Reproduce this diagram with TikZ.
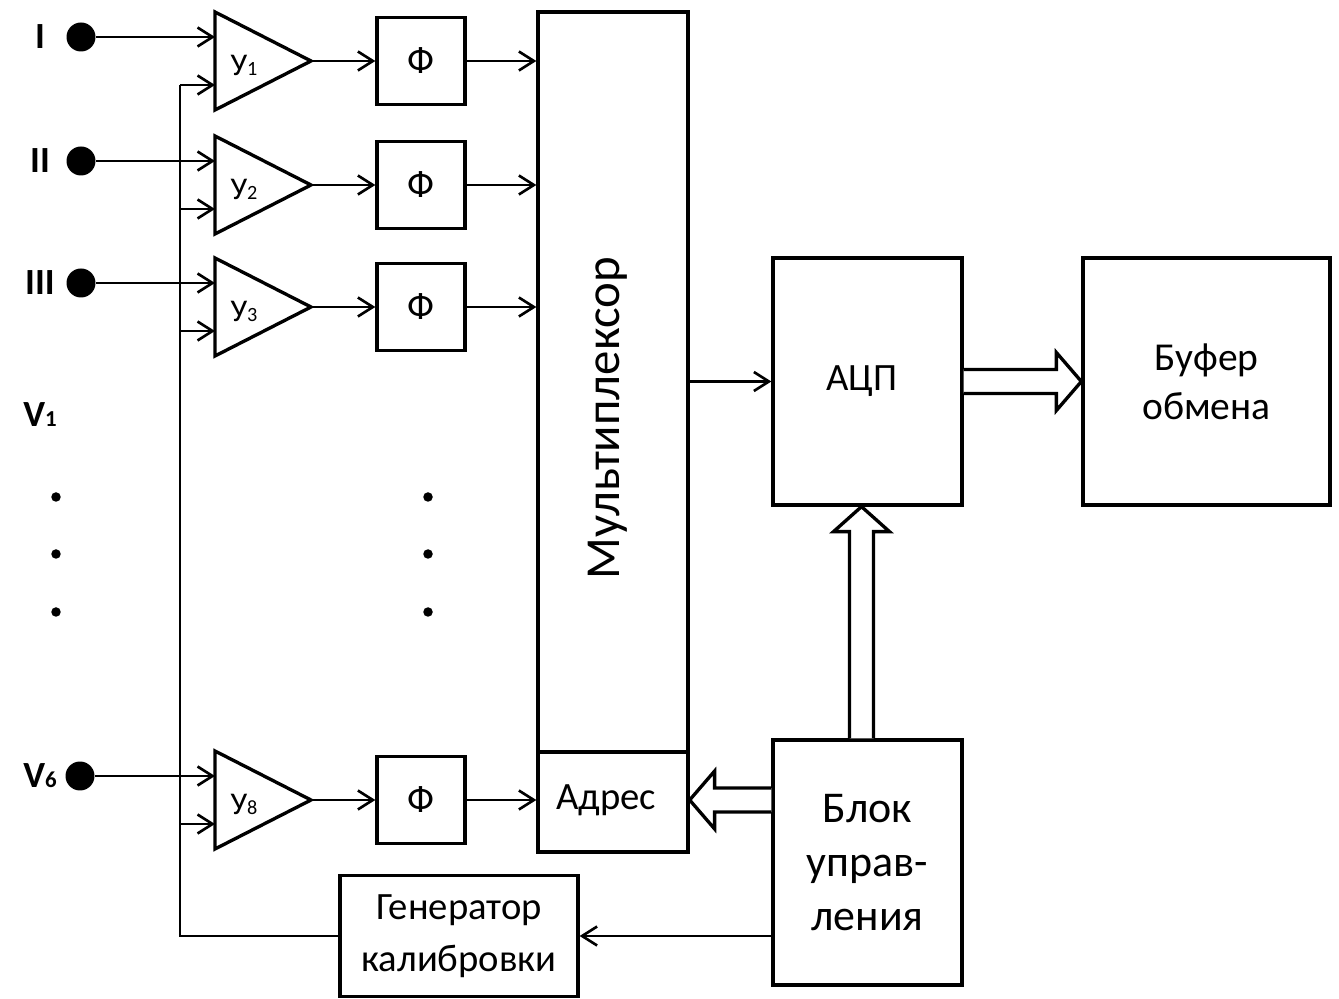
\documentclass[tikz,border=0pt]{standalone}
\usepackage{fontspec}
\setmainfont{Carlito}
\usetikzlibrary{calc,positioning}
\usetikzlibrary{arrows.meta}

\newcommand{\fsz}[2]{\fontsize{#1}{#2}\selectfont}

\begin{document}
\begin{tikzpicture}[x=0.02cm, y=-0.02cm,
    box/.style={draw, line width=1.9pt, inner sep=0pt, align=center},
    phibox/.style={box, minimum width=1.76cm, minimum height=1.74cm, font=\fsz{22}{26}},
    sig/.style={line width=1.5pt, -{Straight Barb[length=3mm,width=3.8mm]}},
    wire/.style={line width=1.5pt},
    amp/.style={draw, line width=1.9pt, line join=miter},
    hollow/.style={draw, line width=1.9pt, fill=white, line join=miter},
    indot/.style={circle, fill, inner sep=0pt, minimum size=0.58cm},
    smalldot/.style={circle, fill, inner sep=0pt, minimum size=0.19cm},
    inlabel/.style={font=\fsz{21}{25}\bfseries},
    amplabel/.style={font=\fsz{18}{20}}]
    \useasboundingbox (0,0) rectangle (1339,999);

    % Main blocks
    \node[box, minimum width=3cm, minimum height=16.8cm] (mux) at (613,432) {};
    \node[rotate=90, font=\fsz{27.8}{32}] (muxlab) at (608,418) {Мультиплексор};
    \coordinate (divl) at (538,752);
    \draw[line width=1.9pt] (divl) -- (divl -| mux.east);
    \node[font=\fsz{22}{26}] (adr) at (606,800) {Адрес};

    \node[box, minimum width=3.78cm, minimum height=4.94cm] (adc) at (867.5,381.5) {};
    \node[font=\fsz{22}{26}] (adclab) at (862,381.5) {АЦП};
    \node[box, minimum width=4.94cm, minimum height=4.94cm, font=\fsz{22.5}{28}] (buf) at (1206.5,381.5) {Буфер\\обмена};
    \node[box, minimum width=3.78cm, minimum height=4.9cm, font=\fsz{25}{30.5}] (ctl) at (867.5,862.5) {Блок\\управ-\\ления};
    \node[box, minimum width=4.76cm, minimum height=2.42cm, font=\fsz{22}{29.5}] (gen) at (459,936) {Генератор\\калибровки};

    % Channels
    \foreach \n/\y/\k/\l/\dx in {1/61/1/I/81, 2/185/2/II/81, 3/307/3/III/81, 4/800/8/V{\fsz{13}{15}6}/80} {
        \coordinate (ua\n) at (215,\y-24);
        \coordinate (ub\n) at (215,\y+24);
        \coordinate (uo\n) at (311,\y);
        \draw[amp] (215,\y-49) -- (uo\n) -- (215,\y+49) -- cycle;
        \node[amplabel] (ul\n) at (244,\y+4) {У{\fsz{11.5}{13}\k}};
        \node[phibox] (f\n) at (421,\y) {Ф};
        \node[indot] (in\n) at (\dx,\y-24) {};
        \node[inlabel] (lab\n) at (40,\y-24) {\l};
        \draw[sig] (in\n) -- (ua\n);
        \draw[sig] (uo\n) -- (f\n);
        \draw[sig] (f\n) -- (f\n -| mux.west);
        \draw[sig] (180,\y+24) -- (ub\n);
    }
    \node[inlabel] (labv1) at (40,415) {V{\fsz{13}{15}1}};

    % Dots
    \foreach \y [count=\i] in {497,554,612} {
        \node[smalldot] (dl\i) at (56,\y) {};
        \node[smalldot] (dm\i) at (428,\y) {};
    }

    % Calibration bus
    \coordinate (bustop) at (180,85);
    \draw[wire] (bustop) |- (gen.west);
    \draw[sig] (ctl.west |- gen.east) -- (gen.east);

    % Mux to ADC
    \draw[sig] (mux.east |- adc.west) -- (adc.west);

    % Hollow arrows
    \draw[hollow] ($(adc.east)+(0,-12)$) -- ($(buf.west)+(-25,-12)$) -- ($(buf.west)+(-25,-29)$)
        -- (buf.west) -- ($(buf.west)+(-25,29)$) -- ($(buf.west)+(-25,12)$) -- ($(adc.east)+(0,12)$);
    \coordinate (cu) at ($(ctl.north)+(-6,0)$);
    \coordinate (au) at (cu |- adc.south);
    \draw[hollow] ($(cu)+(-12,0)$) -- ($(au)+(-12,25)$) -- ($(au)+(-28,25)$) -- (au)
        -- ($(au)+(28,25)$) -- ($(au)+(12,25)$) -- ($(cu)+(12,0)$);
    \coordinate (cl) at (ctl.west |- adr);
    \coordinate (ml) at (mux.east |- adr);
    \draw[hollow] ($(cl)+(0,-12)$) -- ($(ml)+(25,-12)$) -- ($(ml)+(25,-29)$) -- (ml)
        -- ($(ml)+(25,29)$) -- ($(ml)+(25,12)$) -- ($(cl)+(0,12)$);
\end{tikzpicture}
\end{document}
